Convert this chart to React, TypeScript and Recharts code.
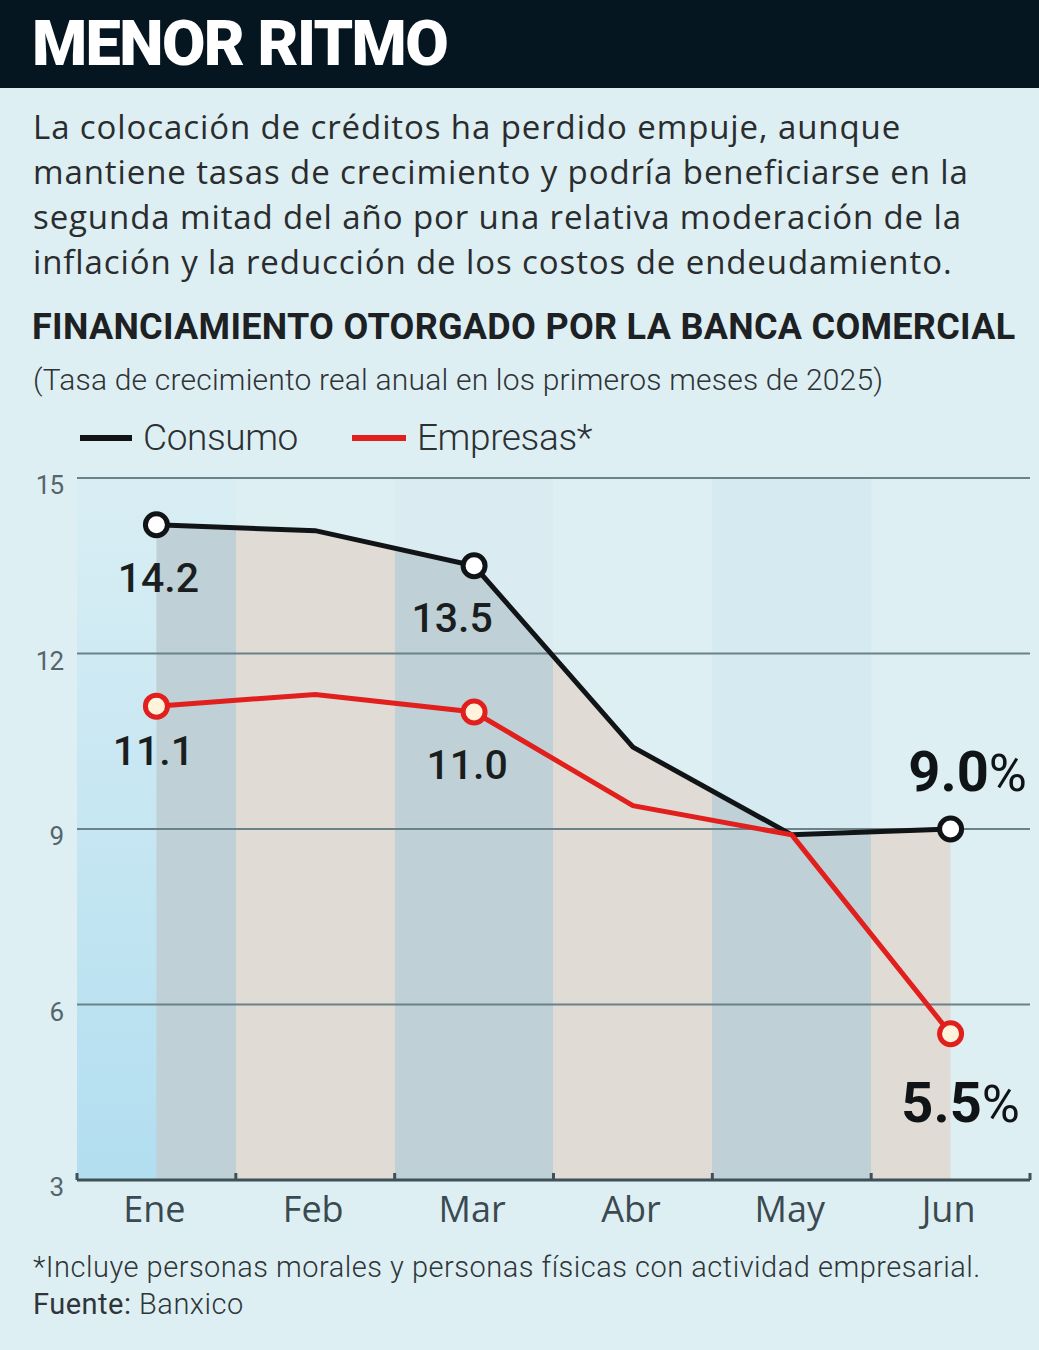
import React from 'react'
import {
  ComposedChart,
  Area,
  Line,
  XAxis,
  YAxis,
  ReferenceArea,
  ReferenceLine,
  LabelList,
} from 'recharts'

const months = ['Ene', 'Feb', 'Mar', 'Abr', 'May', 'Jun']
const consumo = [14.2, 14.1, 13.5, 10.4, 8.9, 9.0]
const empresas = [11.1, 11.3, 11.0, 9.4, 8.9, 5.5]
const yTicks = [3, 6, 9, 12, 15]
const markedPoints = [0, 2, 5]

const data = months.map((month, i) => ({
  month,
  consumo: consumo[i],
  empresas: empresas[i],
}))

const BG = '#ddeff3'
const BAND_DARK = '#bfd1d6'
const BAND_LIGHT = '#e0dbd5'
const RED = '#e11f1c'
const INK = '#111417'

// label offsets per series / point (dx, dy from the dot)
const labelPos: Record<string, Record<number, { dx: number; dy: number }>> = {
  consumo: { 0: { dx: 2, dy: 67 }, 2: { dx: -22, dy: 66 }, 5: { dx: 17, dy: -38 } },
  empresas: { 0: { dx: -3, dy: 59 }, 2: { dx: -7, dy: 67 }, 5: { dx: 10, dy: 88 } },
}

const makeDot = (stroke: string, fill: string) => (props: any) => {
  const { cx, cy, index } = props
  if (!markedPoints.includes(index)) return <g key={`d-${index}`} />
  return (
    <circle key={`d-${index}`} cx={cx} cy={cy} r={11} fill={fill} stroke={stroke} strokeWidth={5} />
  )
}

const makeLabel = (series: string) => (props: any) => {
  const { x, y, value, index } = props
  const pos = labelPos[series][index]
  if (!pos) return null
  const last = index === months.length - 1
  if (last) {
    return (
      <text
        x={x + pos.dx}
        y={y + pos.dy}
        textAnchor="middle"
        fontFamily="Roboto, sans-serif"
        fontSize={56}
        fontWeight={700}
        fill={INK}
      >
        {Number(value).toFixed(1)}
        <tspan fontWeight={400} fontSize={52}>%</tspan>
      </text>
    )
  }
  return (
    <text
      x={x + pos.dx}
      y={y + pos.dy}
      textAnchor="middle"
      fontFamily="Roboto, sans-serif"
      fontSize={41}
      fontWeight={500}
      fill="#1b1e20"
    >
      {Number(value).toFixed(1)}
    </text>
  )
}

const MonthTick = (props: any) => {
  const { x, y, payload, index } = props
  const half = payload.offset ?? 0
  return (
    <g>
      <line x1={x - half} x2={x - half} y1={y} y2={y - 7} stroke="#3f5158" strokeWidth={3} />
      {index === months.length - 1 && (
        <line x1={x + half} x2={x + half} y1={y} y2={y - 7} stroke="#3f5158" strokeWidth={3} />
      )}
      <text
        x={x - 2}
        y={y + 42}
        textAnchor="middle"
        fontFamily="'Open Sans', sans-serif"
        fontSize={36}
        fill="#3a4a50"
      >
        {payload.value}
      </text>
    </g>
  )
}

const ValueTick = (props: any) => {
  const { x, y, payload } = props
  return (
    <text
      x={x}
      y={y + 16}
      textAnchor="end"
      fontFamily="Roboto, sans-serif"
      fontSize={26}
      letterSpacing={-1}
      fill="#56656a"
    >
      {payload.value}
    </text>
  )
}

// hard stops so every month keeps its own column colour under the area
const bandStops = () => {
  const stops: React.ReactNode[] = []
  const n = months.length - 1
  months.forEach((_, i) => {
    const from = i === 0 ? 0 : (i - 0.5) / n
    const to = i === n ? 1 : (i + 0.5) / n
    const c = i % 2 === 0 ? BAND_DARK : BAND_LIGHT
    stops.push(<stop key={`a${i}`} offset={from} stopColor={c} />)
    stops.push(<stop key={`b${i}`} offset={to} stopColor={c} />)
  })
  return stops
}

export default function App() {
  return (
    <div
      style={{
        position: 'absolute',
        left: 0,
        top: 0,
        width: 1039,
        height: 1350,
        background: BG,
        overflow: 'hidden',
        fontFamily: "'Open Sans', sans-serif",
      }}
    >
      <div style={{ height: 88, background: '#061620', position: 'relative' }}>
        <div
          style={{
            position: 'absolute',
            left: 32,
            top: 6,
            color: '#fff',
            fontFamily: 'Roboto, sans-serif',
            fontWeight: 900,
            fontSize: 63,
            letterSpacing: -1.6,
            lineHeight: '76px',
          }}
        >
          MENOR RITMO
        </div>
      </div>

      <div style={{ position: 'absolute', left: 33, top: 104, color: '#2a2c2e', fontSize: 33, lineHeight: '45px', letterSpacing: 0.9, whiteSpace: 'nowrap' }}>
        <div>La colocación de créditos ha perdido empuje, aunque</div>
        <div>mantiene tasas de crecimiento y podría beneficiarse en la</div>
        <div>segunda mitad del año por una relativa moderación de la</div>
        <div>inflación y la reducción de los costos de endeudamiento.</div>
      </div>

      <div
        style={{
          position: 'absolute',
          left: 32,
          top: 306,
          fontFamily: 'Roboto, sans-serif',
          fontWeight: 700,
          fontSize: 36,
          letterSpacing: 0.3,
          color: '#1d2124',
          whiteSpace: 'nowrap',
        }}
      >
        FINANCIAMIENTO OTORGADO POR LA BANCA COMERCIAL
      </div>
      <div
        style={{
          position: 'absolute',
          left: 33,
          top: 362,
          fontFamily: 'Roboto, sans-serif',
          fontWeight: 300,
          fontSize: 30,
          letterSpacing: 0.2,
          color: '#2f3336',
          whiteSpace: 'nowrap',
        }}
      >
        (Tasa de crecimiento real anual en los primeros meses de 2025)
      </div>

      <div
        style={{
          position: 'absolute',
          left: 80,
          top: 416,
          display: 'flex',
          alignItems: 'center',
          fontFamily: 'Roboto, sans-serif',
          fontWeight: 300,
          fontSize: 37,
          color: '#2c3033',
          letterSpacing: -0.4,
        }}
      >
        <span style={{ width: 52, height: 6, background: INK, display: 'inline-block', marginRight: 11 }} />
        <span>Consumo</span>
        <span style={{ width: 54, height: 6, background: RED, display: 'inline-block', marginLeft: 54, marginRight: 11 }} />
        <span>Empresas*</span>
      </div>

      <div style={{ position: 'absolute', left: 0, top: 460 }}>
        <ComposedChart
          width={1039}
          height={790}
          data={data}
          margin={{ top: 18, right: 9, bottom: 10, left: 0 }}
        >
          <defs>
            <linearGradient id="bands" x1="0" y1="0" x2="1" y2="0">
              {bandStops()}
            </linearGradient>
            <linearGradient id="leftCol" x1="0" y1="0" x2="0" y2="1">
              <stop offset="0" stopColor="#d9eef4" />
              <stop offset="1" stopColor="#b2def0" />
            </linearGradient>
          </defs>
          <ReferenceArea x1="Ene" x2="Ene" y1={3} y2={15} fill="url(#leftCol)" fillOpacity={1} stroke="none" />
          <ReferenceArea x1="Mar" x2="Mar" y1={3} y2={15} fill="#d3e9f0" fillOpacity={0.35} stroke="none" />
          <ReferenceArea x1="May" x2="May" y1={3} y2={15} fill="#cde7f0" fillOpacity={0.5} stroke="none" />
          <XAxis
            dataKey="month"
            scale="band"
            height={60}
            axisLine={{ stroke: '#3f5158', strokeWidth: 3 }}
            tickLine={false}
            tickSize={0}
            tickMargin={0}
            tick={<MonthTick />}
            interval={0}
          />
          <YAxis
            domain={[3, 15]}
            ticks={yTicks}
            width={77}
            axisLine={false}
            tickLine={false}
            tickSize={0}
            tickMargin={14}
            tick={<ValueTick />}
          />
          <Area
            dataKey="consumo"
            type="linear"
            stroke="none"
            fill="url(#bands)"
            fillOpacity={1}
            baseValue={3}
            isAnimationActive={false}
          />
          {yTicks.slice(1).map((t) => (
            <ReferenceLine key={t} y={t} stroke="#6b8288" strokeWidth={2} />
          ))}
          <Line
            dataKey="consumo"
            type="linear"
            stroke={INK}
            strokeWidth={5}
            dot={makeDot(INK, '#ffffff')}
            activeDot={false}
            isAnimationActive={false}
          >
            <LabelList dataKey="consumo" content={makeLabel('consumo')} />
          </Line>
          <Line
            dataKey="empresas"
            type="linear"
            stroke={RED}
            strokeWidth={5}
            dot={makeDot(RED, '#fff3dc')}
            activeDot={false}
            isAnimationActive={false}
          >
            <LabelList dataKey="empresas" content={makeLabel('empresas')} />
          </Line>
        </ComposedChart>
      </div>

      <div
        style={{
          position: 'absolute',
          left: 33,
          top: 1249,
          fontFamily: 'Roboto, sans-serif',
          fontWeight: 300,
          fontSize: 29,
          letterSpacing: 0.5,
          color: '#2f3538',
          lineHeight: '37px',
          whiteSpace: 'nowrap',
        }}
      >
        <div>*Incluye personas morales y personas físicas con actividad empresarial.</div>
        <div>
          <span style={{ fontWeight: 400 }}>Fuente:</span> Banxico
        </div>
      </div>
    </div>
  )
}
